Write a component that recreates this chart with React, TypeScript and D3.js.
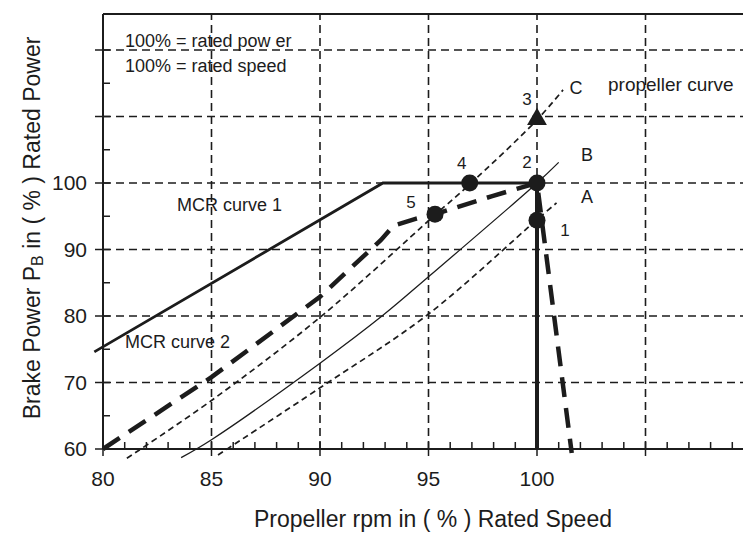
import React from 'react';
import * as d3 from 'd3';

type P = [number, number];

const xTickLabels = [80, 85, 90, 95, 100];
const yTickLabels = [60, 70, 80, 90, 100];
const xGrid = [85, 90, 95, 100, 105];
const yGrid = [70, 80, 90, 100, 110, 120];
const xMinor = d3.range(81, 115, 1);
const yMajor = [60, 70, 80, 90, 100, 110, 120];
const yMinor = [65, 75, 85, 95, 105, 115];

const mcrCurve1: P[] = [[79.6, 74.6], [92.9, 100], [100, 100]];
const mcrVertical: P[] = [[100, 100], [100, 60]];
const mcrCurve2: P[] = [
  [80, 60], [85, 70.8], [90, 82.9], [92.8, 91.4], [93.4, 93.6], [94.4, 94.6],
  [95.3, 95.3], [97.9, 98.0], [100, 100], [101.6, 59.4],
];
const propC: P[] = [[81.1, 58.6], [85, 67.3], [90, 79.8], [95.3, 95.2], [96.9, 99.8], [100, 109.5], [101.2, 114]];
const propB: P[] = [[83.6, 58.7], [85, 61.4], [90, 72.9], [92.9, 80.1], [95, 85.9], [100, 100], [101, 103.1]];
const propA: P[] = [[85.3, 59.1], [90, 69.2], [95, 80.3], [100, 94.5], [100.9, 97.0]];

const dots = [
  { id: '1', x: 100, y: 94.4, dx: 28, dy: 16 },
  { id: '2', x: 100, y: 100, dx: -10, dy: -15 },
  { id: '4', x: 96.9, y: 100, dx: -8, dy: -14 },
  { id: '5', x: 95.3, y: 95.3, dx: -24, dy: -6 },
];
const triangle = { id: '3', x: 100, y: 109.6, dx: -10, dy: -14 };

const curveLabels = [
  { text: 'C', x: 101.8, y: 113.4 },
  { text: 'B', x: 102.3, y: 103.3 },
  { text: 'A', x: 102.3, y: 97.0 },
];

const W = 743;
const H = 533;
const FONT = '"Liberation Sans", Arial, Helvetica, sans-serif';
const INK = '#1c1c1c';

export default function App() {
  const x = d3.scaleLinear().domain([80, 100]).range([103, 537]);
  const y = d3.scaleLinear().domain([60, 100]).range([449, 183]);
  const top = 14;
  const right = W;
  const x0 = x(80);
  const y0 = y(60);

  const lin = d3.line<P>().x(d => x(d[0])).y(d => y(d[1]));
  const smooth = d3.line<P>().x(d => x(d[0])).y(d => y(d[1])).curve(d3.curveCatmullRom.alpha(0.5));
  const tri = d3.symbol().type(d3.symbolTriangle).size(170)();

  return (
    <svg width={W} height={H} style={{ position: 'absolute', left: 0, top: 0, background: '#fff' }}
      fontFamily={FONT}>
      <rect x={0} y={0} width={W} height={H} fill="#fff" />
      {/* grid */}
      <g stroke={INK} strokeWidth={1.6} strokeDasharray="8,5" fill="none">
        {yGrid.map(v => (
          <line key={'hy' + v} x1={x0} x2={right} y1={y(v)} y2={y(v)} />
        ))}
        {xGrid.map(v => (
          <line key={'vx' + v} x1={x(v)} x2={x(v)} y1={y0} y2={top} />
        ))}
      </g>
      {/* frame / axes */}
      <g stroke={INK} strokeWidth={2} fill="none">
        <line x1={x0} x2={right} y1={top} y2={top} />
        <line x1={x0} x2={x0} y1={top} y2={y0} />
        <line x1={x0} x2={right} y1={y0} y2={y0} />
        {xMinor.filter(v => v % 5 !== 0).map(v => (
          <line key={'xm' + v} x1={x(v)} x2={x(v)} y1={y0} y2={y0 - 7} strokeWidth={1.5} />
        ))}
        {xMinor.filter(v => v % 5 === 0).concat([80]).map(v => (
          <line key={'xM' + v} x1={x(v)} x2={x(v)} y1={y0 + 7} y2={y0 - 7} strokeWidth={1.5} />
        ))}
        {yMinor.map(v => (
          <line key={'ym' + v} x1={x0} x2={x0 + 7} y1={y(v)} y2={y(v)} strokeWidth={1.5} />
        ))}
        {yMajor.map(v => (
          <line key={'yM' + v} x1={x0 - 8} x2={x0 + 7} y1={y(v)} y2={y(v)} strokeWidth={1.5} />
        ))}
      </g>
      {/* propeller curves */}
      <path d={smooth(propC) || ''} fill="none" stroke={INK} strokeWidth={1.7} strokeDasharray="6,4" />
      <path d={smooth(propB) || ''} fill="none" stroke={INK} strokeWidth={1.3} />
      <path d={smooth(propA) || ''} fill="none" stroke={INK} strokeWidth={1.7} strokeDasharray="6,4" />
      {/* MCR curves */}
      <path d={lin(mcrCurve1) || ''} fill="none" stroke={INK} strokeWidth={2.8} />
      <path d={lin(mcrVertical) || ''} fill="none" stroke={INK} strokeWidth={4} />
      <path d={lin(mcrCurve2) || ''} fill="none" stroke={INK} strokeWidth={4.5} strokeDasharray="20,11" />
      {/* points */}
      {dots.map(d => (
        <circle key={d.id} cx={x(d.x)} cy={y(d.y)} r={8.5} fill={INK} />
      ))}
      <path d={tri || ''} transform={`translate(${x(triangle.x)},${y(triangle.y)})`} fill={INK} />
      {/* point labels */}
      <g fontSize={17} fill={INK} textAnchor="middle">
        {dots.map(d => (
          <text key={'t' + d.id} x={x(d.x) + d.dx} y={y(d.y) + d.dy}>{d.id}</text>
        ))}
        <text x={x(triangle.x) + triangle.dx} y={y(triangle.y) + triangle.dy}>{triangle.id}</text>
      </g>
      <g fontSize={18} fill={INK} textAnchor="middle">
        {curveLabels.map(c => (
          <text key={c.text} x={x(c.x)} y={y(c.y)}>{c.text}</text>
        ))}
      </g>
      <g fontSize={18} fill={INK}>
        <text x={125} y={47}>100% = rated pow er</text>
        <text x={125} y={72}>100% = rated speed</text>
        <text x={608} y={91} fontSize={19}>propeller curve</text>
        <text x={177} y={211}>MCR curve 1</text>
        <text x={125} y={348}>MCR curve 2</text>
      </g>
      {/* tick labels */}
      <g fontSize={21} fill={INK}>
        {xTickLabels.map(v => (
          <text key={'xl' + v} x={x(v)} y={486} textAnchor="middle">{v}</text>
        ))}
        {yTickLabels.map(v => (
          <text key={'yl' + v} x={87} y={y(v) + 7} textAnchor="end">{v}</text>
        ))}
      </g>
      {/* axis titles */}
      <text x={433} y={527} fontSize={23} fill={INK} textAnchor="middle">
        Propeller rpm in ( % ) Rated Speed
      </text>
      <text transform="translate(40,228) rotate(-90)" fontSize={23} fill={INK} textAnchor="middle">
        Brake Power P<tspan fontSize={16} dy={3}>B</tspan><tspan dy={-3}> in ( % ) Rated Power</tspan>
      </text>
    </svg>
  );
}
